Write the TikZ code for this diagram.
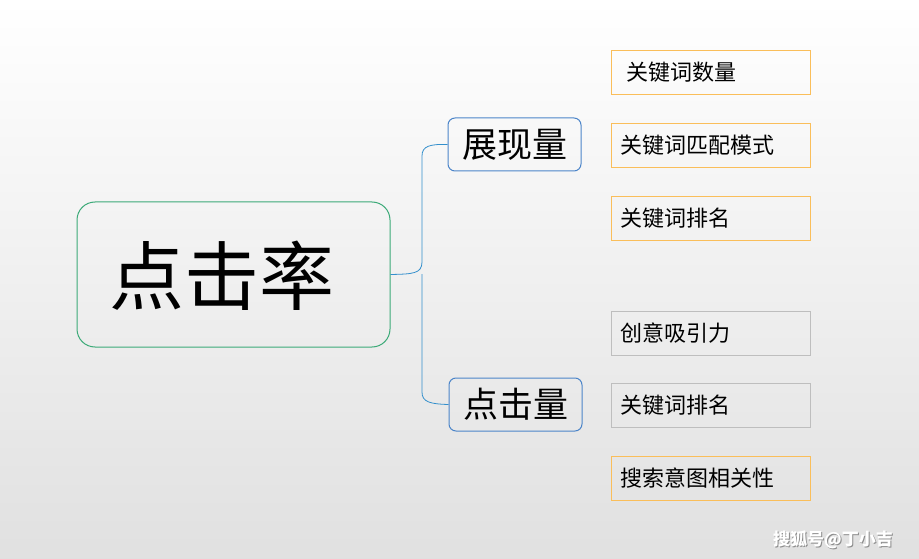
\documentclass[tikz,border=0pt]{standalone}
\usepackage{fontspec}
\setmainfont{Noto Sans CJK SC}
\begin{document}
\begin{tikzpicture}[x=1pt,y=-1pt,
  leaf/.style={draw=#1,line width=0.8pt,minimum width=199pt,minimum height=44pt,inner sep=0pt,font=\fontsize{22}{26}\selectfont,text width=181pt,align=left},
  mid/.style={draw=blue!55!cyan!70!black!70,line width=1pt,rounded corners=7pt,minimum width=133pt,minimum height=53pt,font=\fontsize{35}{40}\selectfont},
  link/.style={draw=blue!40!cyan!60!gray,line width=0.8pt}]
\shade[top color=white,bottom color=black!12] (0,0) rectangle (919,559);
\useasboundingbox (0,0) rectangle (919,559);
\definecolor{grn}{RGB}{60,170,120}
\node[draw=grn,line width=1pt,rounded corners=18pt,minimum width=313pt,minimum height=145pt] (main) at (233.5,274.5) {};
\node[font=\fontsize{75}{80}\selectfont] at (222,276) {点击率};
\node[mid] (show) at (514.5,144.5) {展现量};
\node[mid] (click) at (515.5,404.5) {点击量};
\definecolor{org}{RGB}{250,190,90}
\definecolor{gry}{RGB}{190,190,190}
\node[leaf=org] (a1) at (710.5,72) {\hspace{6pt}关键词数量};
\node[leaf=org] (a2) at (710.5,145) {关键词匹配模式};
\node[leaf=org] (a3) at (710.5,218) {关键词排名};
\node[leaf=gry] (b1) at (710.5,333) {创意吸引力};
\node[leaf=gry] (b2) at (710.5,405) {关键词排名};
\node[leaf=org] (b3) at (710.5,478) {搜索意图相关性};
\coordinate (j) at (422,274);
\draw[link] (main.east) .. controls (412,274) and (422,274) .. (422,262) -- (422,156) .. controls (422,146) and (430,144) .. (show.west);
\draw[link] (j) .. controls (422,280) .. (422,288) -- (422,392) .. controls (422,402) and (430,404) .. (click.west);
\node[font=\fontsize{17}{20}\selectfont\bfseries,text=black!45] at (834,541) {搜狐号@丁小吉};
\node[font=\fontsize{17}{20}\selectfont\bfseries,text=white] at (833,540) {搜狐号@丁小吉};
\end{tikzpicture}
\end{document}
